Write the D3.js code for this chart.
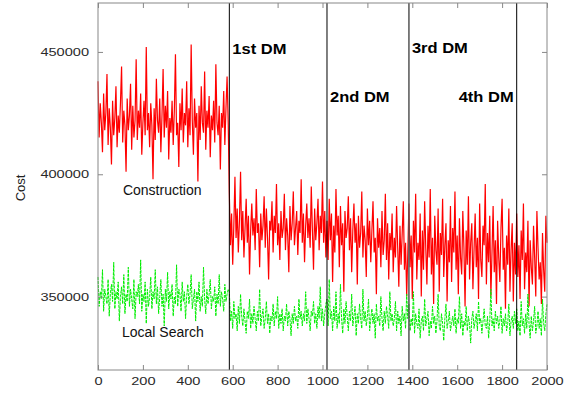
<!DOCTYPE html>
<html>
<head>
<meta charset="utf-8">
<script src="https://cdn.jsdelivr.net/npm/d3@7"></script>
<style>
  body { margin: 0; background: #fff; }
  text { font-family: "Liberation Sans", Arial, sans-serif; }
</style>
</head>
<body>
<div id="chart"></div>
<script>
// cost values in thousands, one reading every 5 iterations (0..2000)
const iterStep = 5;
const constructionCost = [
  438, 415, 429, 421, 409, 433, 418, 425, 441, 412, 427, 419, 404, 430, 416, 423, 436, 411, 424, 417,
  429, 444, 413, 426, 420, 401, 431, 418, 424, 437, 410, 428, 415, 422, 447, 414, 426, 419, 433, 408,
  421, 430, 416, 452, 418, 425, 411, 429, 420, 398, 427, 414, 439, 422, 417, 431, 409, 424, 443, 415,
  428, 419, 434, 406, 423, 417, 430, 412, 426, 449, 416, 421, 403, 429, 418, 435, 413, 425, 420, 438,
  411, 427, 416, 453, 422, 408, 431, 419, 425, 397, 428, 414, 436, 421, 417, 442, 410, 426, 419, 432,
  407, 424, 418, 430, 413, 445, 421, 416, 428, 402, 425, 419, 434, 412, 427, 440, 421,
  392, 371, 384, 363, 379, 399, 374, 386, 368, 381, 401, 373, 385, 366, 378, 390, 372, 383, 359, 377,
  388, 375, 382, 369, 394, 376, 380, 362, 384, 373, 379, 391, 370, 386, 374, 357, 381, 377, 389, 368,
  383, 376, 396, 371, 380, 365, 385, 374, 378, 392, 369, 382, 375, 360, 387, 373, 380, 393, 371, 378,
  385, 367, 381, 376, 398, 372, 384, 364, 379, 388, 374, 382, 370, 395, 377, 361, 386, 373, 380, 390,
  369, 383, 376, 397, 372, 385, 366,
  381, 365, 390, 373, 384, 356, 379, 368, 394, 375, 383, 362, 387, 371, 380, 352, 385, 374, 378, 391,
  369, 382, 360, 377, 388, 372, 380, 355, 383, 370, 376, 393, 366, 379, 373, 358, 386, 371, 381, 364,
  377, 389, 368, 374, 351, 382, 370, 378, 362, 385, 367, 373, 392, 365, 380, 357, 376, 369, 384, 360,
  374, 366, 387, 370, 354, 379, 363, 376, 389, 361, 372, 350, 368,
  388, 362, 375, 349, 381, 368, 392, 357, 372, 365, 384, 350, 377, 361, 389, 370, 355, 379, 366, 394,
  359, 374, 347, 383, 369, 363, 386, 352, 376, 367, 390, 358, 371, 380, 348, 373, 364, 387, 356, 378,
  368, 393, 361, 375, 351, 382, 366, 359, 385, 370, 346, 377, 363, 391, 357, 372, 380, 353, 369, 384,
  362, 374, 349, 388, 365, 358, 379, 371, 396, 355, 376, 364, 383, 350, 368, 387, 360, 373, 347, 381,
  366, 356, 378, 390, 361, 370, 345, 375, 363, 386, 352, 369, 380, 348, 372, 359,
  384, 358, 371, 349, 377, 365, 388, 353, 368, 360, 381, 346, 373, 362, 355, 379, 366, 350, 385, 370,
  357, 364, 347, 376, 361, 352, 383, 372
];
const localSearchCost = [
  358, 346, 352, 349, 361, 344, 353, 350, 347, 357, 342, 351, 355, 348, 364, 345, 352, 349, 356, 340,
  350, 354, 347, 359, 343, 351, 348, 362, 346, 353, 349, 345, 357, 341, 352, 350, 355, 347, 365, 344,
  351, 348, 356, 339, 353, 346, 350, 358, 345, 352, 349, 361, 347, 354, 343, 350, 357, 346, 351, 338,
  353, 348, 360, 345, 352, 349, 355, 342, 350, 347, 363, 346, 353, 351, 344, 356, 348, 352, 341, 350,
  355, 347, 351, 359, 345, 349, 353, 340, 352, 348, 356, 344, 350, 346, 362, 349, 343, 353, 347, 351,
  357, 345, 350, 348, 354, 342, 351, 347, 359, 346, 352, 349, 344, 355, 348, 351, 353,
  352, 340, 344, 337, 348, 341, 343, 336, 346, 339, 351, 342, 338, 345, 340, 335, 344, 341, 349, 337,
  343, 339, 346, 341, 336, 344, 340, 353, 338, 342, 345, 337, 341, 348, 339, 343, 335, 342, 340, 347,
  338, 344, 341, 350, 337, 343, 339, 345, 336, 342, 340, 347, 338, 344, 341, 334, 343, 339, 346, 340,
  342, 337, 349, 341, 344, 338, 343, 340, 352, 339, 345, 341, 336, 344, 342, 348, 339, 343, 337, 346,
  341, 354, 340, 345, 338, 343, 347,
  349, 338, 357, 341, 344, 336, 346, 340, 352, 337, 343, 339, 355, 341, 335, 345, 339, 348, 342, 336,
  344, 340, 351, 338, 342, 346, 334, 343, 339, 347, 341, 337, 353, 340, 344, 338, 342, 349, 336, 341,
  345, 339, 343, 333, 347, 340, 342, 338, 350, 341, 336, 344, 339, 346, 342, 337, 352, 340, 343, 338,
  341, 348, 336, 344, 339, 342, 334, 346, 340, 343, 337, 351, 341,
  347, 336, 341, 338, 352, 335, 343, 339, 337, 345, 333, 340, 342, 336, 349, 338, 341, 344, 334, 340,
  337, 346, 339, 342, 335, 340, 351, 338, 336, 343, 339, 332, 341, 347, 337, 340, 344, 336, 339, 342,
  338, 345, 335, 341, 339, 350, 337, 343, 334, 340, 338, 346, 336, 342, 339, 331, 341, 344, 337, 340,
  343, 336, 348, 339, 341, 335, 340, 345, 338, 337, 342, 333, 340, 353, 338, 341, 336, 344, 339, 342,
  337, 340, 346, 335, 341, 338, 343, 336, 339, 347, 334, 340, 342, 337, 344, 339,
  345, 336, 340, 334, 348, 338, 341, 335, 343, 337, 351, 339, 333, 342, 336, 340, 346, 335, 338, 344,
  337, 341, 334, 349, 339, 336, 343, 347
];
const dmIterations = [585, 1020, 1385, 1865];
const dmLabels = ["1st DM", "2nd DM", "3rd DM", "4th DM"];
const xTicks = [0, 200, 400, 600, 800, 1000, 1200, 1400, 1600, 1800, 2000];
const yTicks = [350000, 400000, 450000];

const margin = { top: 3, right: 32, bottom: 24, left: 98 };
const width = 579 - margin.left - margin.right;
const height = 394 - margin.top - margin.bottom;

const svg = d3
  .select("#chart")
  .append("svg")
  .attr("width", 579)
  .attr("height", 394)
  .append("g")
  .attr("transform", `translate(${margin.left}, ${margin.top})`);

const x = d3.scaleLinear().domain([0, 2000]).range([0, width]);
const y = d3.scaleLinear().domain([320000, 470000]).range([height, 0]);

const toSeries = (vals) => vals.map((v, i) => ({ iter: i * iterStep, cost: v * 1000 }));

const line = d3
  .line()
  .x((d) => x(d.iter))
  .y((d) => y(d.cost));

svg
  .append("path")
  .datum(toSeries(constructionCost))
  .attr("fill", "none")
  .attr("stroke", "#ff0000")
  .attr("stroke-width", 1.2)
  .attr("d", line);

svg
  .append("path")
  .datum(toSeries(localSearchCost))
  .attr("fill", "none")
  .attr("stroke", "#00ee00")
  .attr("stroke-width", 1)
  .attr("stroke-dasharray", "3,1")
  .attr("d", line);

// decision maker boundaries
svg
  .selectAll(".dm-line")
  .data(dmIterations)
  .enter()
  .append("line")
  .attr("class", "dm-line")
  .attr("x1", (d) => x(d))
  .attr("x2", (d) => x(d))
  .attr("y1", 0)
  .attr("y2", height)
  .attr("stroke", (d, i) => (i === 2 ? "#555" : "#000"))
  .attr("stroke-width", (d, i) => (i === 2 ? 1.5 : 1));

// frame + inward ticks, tick labels are drawn wide like the original
const styleAxis = (g) => {
  g.select(".domain").remove();
  g.selectAll(".tick line").attr("stroke", "#888");
  g.selectAll(".tick text")
    .attr("fill", "#2a2a2a")
    .style("font-size", "11.5px")
    .each(function () {
      const t = d3.select(this);
      const n = t.text().length;
      if (n) t.attr("textLength", n * 8.1).attr("lengthAdjust", "spacingAndGlyphs");
    });
};

svg
  .append("g")
  .attr("transform", `translate(0, ${height})`)
  .call(d3.axisBottom(x).tickValues(xTicks).tickSize(-5).tickPadding(7).tickFormat(d3.format("d")))
  .call(styleAxis);

svg
  .append("g")
  .call(d3.axisTop(x).tickValues(xTicks).tickSize(-5).tickFormat(""))
  .call(styleAxis);

svg
  .append("g")
  .call(d3.axisLeft(y).tickValues(yTicks).tickSize(-5).tickPadding(9).tickFormat(d3.format("d")))
  .call(styleAxis);

svg
  .append("g")
  .attr("transform", `translate(${width}, 0)`)
  .call(d3.axisRight(y).tickValues(yTicks).tickSize(-5).tickFormat(""))
  .call(styleAxis);

svg
  .append("rect")
  .attr("width", width)
  .attr("height", height)
  .attr("fill", "none")
  .attr("stroke", "#888")
  .attr("stroke-width", 1);

// DM labels
const dmLabelPos = [
  { dx: 3, cost: 449300, anchor: "start" },
  { dx: 3, cost: 429500, anchor: "start" },
  { dx: 3, cost: 449600, anchor: "start" },
  { dx: -3, cost: 429500, anchor: "end" },
];
dmLabels.forEach((label, i) => {
  const p = dmLabelPos[i];
  svg
    .append("text")
    .attr("transform", `translate(${x(dmIterations[i]) + p.dx}, ${y(p.cost)}) scale(1.18,1)`)
    .attr("text-anchor", p.anchor)
    .style("font-size", "14px")
    .style("font-weight", "bold")
    .attr("fill", "#000")
    .text(label);
});

svg
  .append("text")
  .attr("x", x(111))
  .attr("y", y(391500))
  .style("font-size", "14px")
  .attr("fill", "#111")
  .text("Construction");

svg
  .append("text")
  .attr("x", x(107))
  .attr("y", y(333500))
  .style("font-size", "14px")
  .attr("fill", "#111")
  .text("Local Search");

svg
  .append("text")
  .attr("transform", `translate(${25 - margin.left}, ${188 - margin.top}) rotate(-90)`)
  .attr("text-anchor", "middle")
  .style("font-size", "13px")
  .attr("fill", "#222")
  .text("Cost");
</script>
</body>
</html>
